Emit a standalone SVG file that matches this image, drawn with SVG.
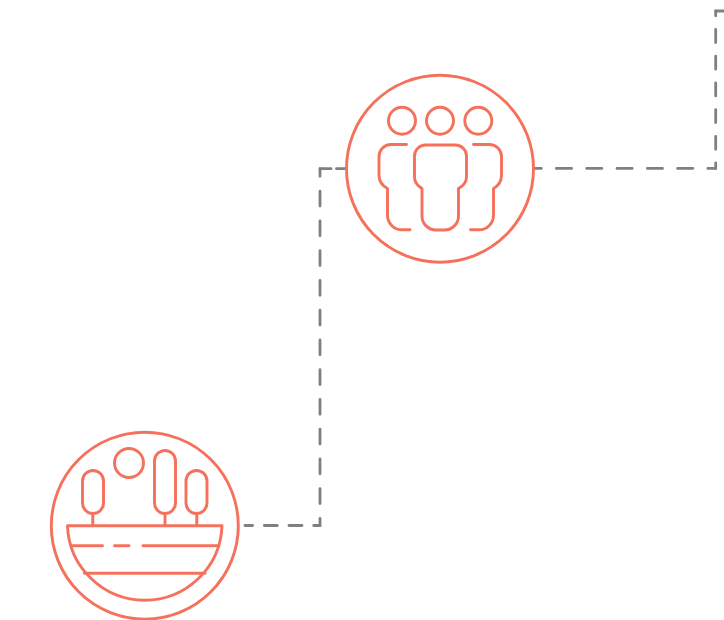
<svg xmlns="http://www.w3.org/2000/svg" width="724" height="620" viewBox="0 0 724 620">
<style>
.c{fill:none;stroke:#808080;stroke-width:2.8;stroke-linecap:round;stroke-linejoin:round}
.n{fill:#fff;stroke:#f5715c;stroke-width:2.9;stroke-linecap:round;stroke-linejoin:round}
.i{fill:none;stroke:#f5715c;stroke-width:2.9;stroke-linecap:round;stroke-linejoin:round}
</style>
<rect width="724" height="620" fill="#fff"/>
<g id="connectors">
<path class="c" d="M320 525.500H245" stroke-dasharray="13 11.700" stroke-dashoffset="6.700"/>
<path class="c" d="M320 525.500V168.700" stroke-dasharray="14.800 14.950" stroke-dashoffset="7.800"/>
<path class="c" d="M320 168.700H331M336.500 168.700H350"/>
<path class="c" d="M715.700 168.400H535" stroke-dasharray="15.200 15.100" stroke-dashoffset="7.400"/>
<path class="c" d="M715.700 168.400V11" stroke-dasharray="13 13.700" stroke-dashoffset="7.600"/>
<path class="c" d="M715.700 11H724"/>
</g>
<g id="node-people">
<circle class="n" cx="440" cy="168.700" r="93.500"/>
<circle class="i" cx="402" cy="120.800" r="13.500"/>
<circle class="i" cx="440" cy="120.800" r="13.500"/>
<circle class="i" cx="478.300" cy="120.800" r="13.500"/>
<path class="i" d="M425.500 145H455.500A11 11 0 0 1 466.500 156V177Q466.500 184 458.500 188.500V216A14 14 0 0 1 444.500 230H436A14 14 0 0 1 422 216V188.500Q414.500 184 414.500 177V156A11 11 0 0 1 425.500 145Z"/>
<path class="i" d="M406.500 144.500H391A12 12 0 0 0 379 156.500V175Q379 184 387.500 188.500V215A14.500 14.500 0 0 0 402 229.800H410"/>
<path class="i" d="M473.500 144.500H489.500A12 12 0 0 1 501.500 156.500V175Q501.500 184 493.500 188.500V215A14.500 14.500 0 0 1 479 229.800H470.500"/>
</g>
<g id="node-road">
<circle class="n" cx="144.800" cy="525.700" r="93.500"/>
<circle class="i" cx="129" cy="463" r="14.500"/>
<rect class="i" x="82.500" y="470.500" width="21" height="43" rx="10.500"/>
<rect class="i" x="154.500" y="450.500" width="21" height="63" rx="10.500"/>
<rect class="i" x="186" y="470.500" width="21" height="43" rx="10.500"/>
<path class="i" d="M92.800 514V525.700M165 514V525.700M196.800 514V525.700"/>
<path class="i" d="M67.500 525.700H222A77.300 77.300 0 0 1 67.500 525.700Z"/>
<path class="i" d="M71 545.700H102.500M114.500 545.700H129M143 545.700H219"/>
<path class="i" d="M84.300 573.300H205"/>
</g>
</svg>
